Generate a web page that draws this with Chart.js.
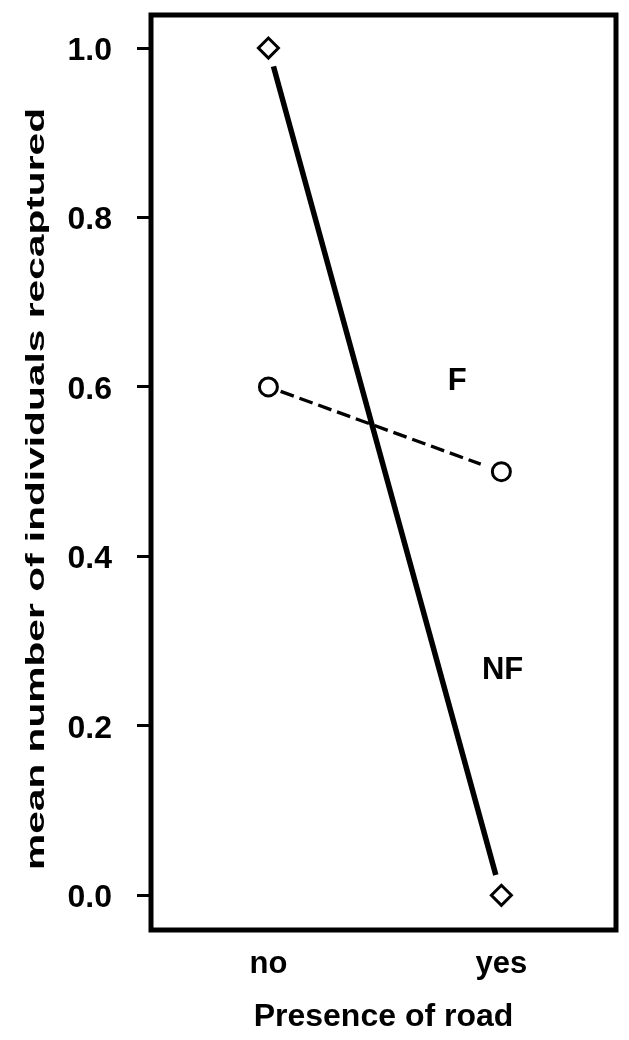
<!DOCTYPE html>
<html>
<head>
<meta charset="utf-8">
<script src="https://cdn.jsdelivr.net/npm/chart.js@4.4.1/dist/chart.umd.min.js"></script>
<style>
  html, body { margin: 0; padding: 0; background: #fff; }
  #wrap { width: 629px; height: 1040px; }
</style>
</head>
<body>
<div id="wrap"><canvas id="c" width="629" height="1040"></canvas></div>
<script>
// Presence of road (x categories)
const roadLabels = ['no', 'yes'];
// Mean number of individuals recaptured per group
const nfValues = [1.0, 0.0];   // NF
const fValues = [0.6, 0.5];    // F
const yTicks = [0.0, 0.2, 0.4, 0.6, 0.8, 1.0];
const yTitle = 'mean number of individuals recaptured';

const FONT = '"Liberation Sans", Arial, Helvetica, sans-serif';

const toPoints = vals => vals.map((v, i) => ({ x: i, y: v }));

// Joins each series' points with a line that stops short of the markers
const gapLines = {
  id: 'gapLines',
  beforeDatasetsDraw(chart) {
    const ctx = chart.ctx;
    const area = chart.chartArea;
    ctx.save();
    ctx.beginPath();
    ctx.rect(area.left, area.top, area.right - area.left, area.bottom - area.top);
    ctx.clip();
    chart.data.datasets.forEach((ds, di) => {
      const pts = chart.getDatasetMeta(di).data;
      for (let i = 0; i < pts.length - 1; i++) {
        const a = pts[i], b = pts[i + 1];
        const dx = b.x - a.x, dy = b.y - a.y;
        const len = Math.hypot(dx, dy);
        const ux = dx / len, uy = dy / len;
        ctx.beginPath();
        ctx.setLineDash(ds.joinDash || []);
        ctx.lineWidth = ds.joinWidth;
        ctx.strokeStyle = '#000';
        ctx.lineCap = 'butt';
        ctx.moveTo(a.x + ux * ds.gapStart, a.y + uy * ds.gapStart);
        ctx.lineTo(b.x - ux * ds.gapEnd, b.y - uy * ds.gapEnd);
        ctx.stroke();
      }
    });
    ctx.restore();
  }
};

// Frame around the plotting region, in-plot series names and the value-axis title
const frameAndNames = {
  id: 'frameAndNames',
  afterDatasetsDraw(chart, args, opts) {
    const ctx = chart.ctx;
    const a = chart.chartArea;
    ctx.save();
    ctx.lineWidth = 5;
    ctx.strokeStyle = '#000';
    ctx.setLineDash([]);
    ctx.strokeRect(a.left, a.top, a.right - a.left, a.bottom - a.top);
    const xs = chart.scales.x, ys = chart.scales.y;
    ctx.fillStyle = '#000';
    ctx.font = 'bold 31px ' + FONT;
    ctx.textAlign = 'center';
    ctx.textBaseline = 'middle';
    opts.names.forEach(n => {
      ctx.fillText(n.text, xs.getPixelForValue(n.x), ys.getPixelForValue(n.y));
    });

    // tall, narrow value-axis title
    const t = opts.yTitle;
    ctx.font = t.weight + ' ' + t.size + 'px ' + FONT;
    const w = ctx.measureText(t.text).width;
    ctx.translate(t.cx, t.cy);
    ctx.rotate(-Math.PI / 2);
    ctx.scale(t.length / w, 1);
    ctx.fillText(t.text, 0, 0);
    ctx.restore();
  }
};

new Chart(document.getElementById('c'), {
  type: 'scatter',
  data: {
    datasets: [
      {
        label: 'NF',
        data: toPoints(nfValues),
        showLine: false,
        pointStyle: 'rectRot',
        pointRadius: 10,
        pointBorderWidth: 3,
        pointBorderColor: '#000',
        pointBackgroundColor: '#fff',
        joinWidth: 5.5,
        joinDash: [],
        gapStart: 19,
        gapEnd: 21
      },
      {
        label: 'F',
        data: toPoints(fValues),
        showLine: false,
        pointStyle: 'circle',
        pointRadius: 9,
        pointBorderWidth: 3,
        pointBorderColor: '#000',
        pointBackgroundColor: '#fff',
        joinWidth: 3.3,
        joinDash: [14, 6],
        gapStart: 13,
        gapEnd: 22
      }
    ]
  },
  options: {
    responsive: false,
    animation: false,
    events: [],
    layout: { padding: { top: 15, right: 4, left: 0, bottom: 0 } },
    plugins: {
      legend: { display: false },
      tooltip: { enabled: false },
      frameAndNames: {
        names: [
          { text: 'F', x: 0.81, y: 0.607 },
          { text: 'NF', x: 1.005, y: 0.265 }
        ],
        yTitle: { text: yTitle, size: 25, weight: 'bold', cx: 37, cy: 489, length: 762 }
      }
    },
    scales: {
      x: {
        type: 'linear',
        min: -0.504,
        max: 1.492,
        afterBuildTicks: s => { s.ticks = roadLabels.map((_, i) => ({ value: i })); },
        afterFit: s => { s.height = 110; s.paddingLeft = 0; s.paddingRight = 0; },
        grid: { display: false },
        border: { display: false },
        ticks: {
          color: '#000',
          padding: 8,
          maxRotation: 0,
          font: { family: FONT, size: 31, weight: 'bold' },
          callback: v => roadLabels[v]
        },
        title: {
          display: true,
          text: 'Presence of road',
          color: '#000',
          padding: { top: 0, bottom: 4 },
          font: { family: FONT, size: 32, weight: 'bold' }
        }
      },
      y: {
        min: -0.041,
        max: 1.039,
        afterBuildTicks: s => { s.ticks = yTicks.map(v => ({ value: v })); },
        afterFit: s => { s.width = 151; s.paddingTop = 0; s.paddingBottom = 0; },
        grid: {
          drawOnChartArea: false,
          drawTicks: true,
          tickLength: 14,
          tickWidth: 3,
          tickColor: '#000'
        },
        border: { display: false },
        ticks: {
          color: '#000',
          padding: 25,
          labelOffset: 3,
          font: { family: FONT, size: 32, weight: 'bold' },
          callback: v => v.toFixed(1)
        },
        title: { display: false }
      }
    }
  },
  plugins: [gapLines, frameAndNames]
});
</script>
</body>
</html>
